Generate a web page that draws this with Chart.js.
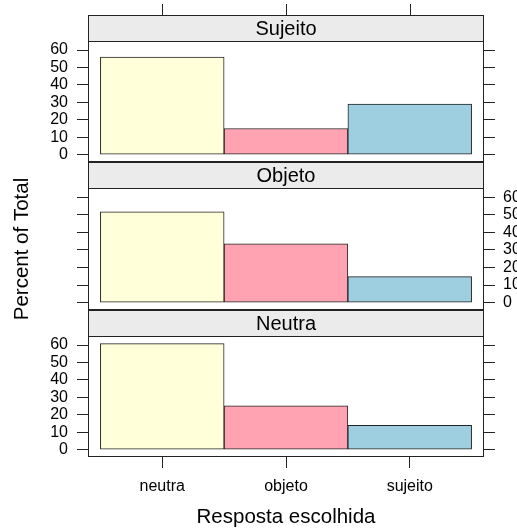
<!DOCTYPE html>
<html><head><meta charset="utf-8">
<script src="https://cdn.jsdelivr.net/npm/chart.js@4"></script>
<style>
html,body{margin:0;padding:0;background:#fff;width:517px;height:529px;overflow:hidden}
canvas{position:absolute;left:0;top:0}
</style></head><body>
<canvas id="p0" width="517" height="529"></canvas>
<canvas id="p1" width="517" height="529"></canvas>
<canvas id="p2" width="517" height="529"></canvas>
<script>
// ---- data ----
const categories = ['neutra', 'objeto', 'sujeito'];
const panelNames = ['Sujeito', 'Objeto', 'Neutra'];
const sujeitoValues = [56, 15, 29];
const objetoValues = [51.7, 33.5, 14.8];
const neutraValues = [60.8, 25.2, 14];
const yTicks = [0, 10, 20, 30, 40, 50, 60];
const xTitle = 'Resposta escolhida';
const yTitle = 'Percent of Total';

// ---- styling / layout ----
const barColors = ['#FFFFD9', '#FFA3B3', '#9ECFE0'];
const LINE = '#222';
const FONT = "'Liberation Sans', Arial, Helvetica, sans-serif";
const W = 517, H = 529, PL = 88, PR = 484, STRIP = 26, TICK = 11;
const layouts = [
  {plotTop: 41,  plotBottom: 162, left: true,  right: false, topTicks: true,  bottom: false, yTitle: false},
  {plotTop: 188, plotBottom: 310, left: false, right: true,  topTicks: false, bottom: false, yTitle: true},
  {plotTop: 336, plotBottom: 457, left: true,  right: false, topTicks: false, bottom: true,  yTitle: false}
];

const panelPlugin = {
  id: 'panel',
  afterDatasetsDraw(chart, args, o) {
    const {ctx, chartArea: a} = chart;
    const x = chart.scales.x;
    const l = Math.round(a.left), r = Math.round(a.right);
    const t = Math.round(a.top), b = Math.round(a.bottom);
    ctx.save();
    ctx.fillStyle = '#EBEBEB';
    ctx.fillRect(l, t - STRIP, r - l, STRIP);
    ctx.strokeStyle = LINE;
    ctx.lineWidth = 1;
    ctx.beginPath();
    ctx.moveTo(l, t + 0.5); ctx.lineTo(r, t + 0.5);
    ctx.stroke();
    ctx.strokeRect(l + 0.5, t - STRIP + 0.5, r - l - 1, b - t + STRIP - 1);
    ctx.fillStyle = '#000';
    ctx.font = '20px ' + FONT;
    ctx.textAlign = 'center';
    ctx.textBaseline = 'middle';
    ctx.fillText(o.label, (l + r) / 2, t - STRIP / 2 + 1);
    if (o.topTicks) {
      ctx.beginPath();
      x.ticks.forEach(tk => {
        const px = Math.round(x.getPixelForValue(tk.value)) + 0.5;
        ctx.moveTo(px, t - STRIP);
        ctx.lineTo(px, t - STRIP - TICK);
      });
      ctx.stroke();
    }
    ctx.restore();
  }
};

function makePanel(id, idx, values) {
  const L = layouts[idx];
  const yAxis = (pos, show, width) => ({
    type: 'linear', position: pos, min: -4.2, max: 65.2,
    afterBuildTicks: s => { s.ticks = yTicks.map(v => ({value: v})); },
    afterFit: s => { s.width = width; },
    grid: {drawOnChartArea: false, drawTicks: true, tickLength: TICK, tickColor: LINE, lineWidth: 1},
    border: {display: false},
    ticks: {callback: v => show ? String(v) : '', font: {family: FONT, size: 16}, color: '#000',
            padding: pos === 'left' ? 9 : 8, autoSkip: false},
    title: {display: pos === 'left' && L.yTitle, text: yTitle, font: {family: FONT, size: 20.5},
            color: '#000', padding: {top: 10, bottom: 0}}
  });
  return new Chart(document.getElementById(id), {
    type: 'bar',
    data: {
      datasets: [{
        data: categories.map((c, i) => ({x: i + 1, y: values[i]})),
        backgroundColor: barColors,
        borderColor: LINE,
        borderWidth: 1,
        borderSkipped: false,
        barPercentage: 1,
        categoryPercentage: 1
      }]
    },
    options: {
      responsive: false, animation: false, devicePixelRatio: 1,
      layout: {padding: {top: L.plotTop, bottom: L.bottom ? 0 : H - L.plotBottom, left: 0, right: 0}},
      plugins: {legend: {display: false}, tooltip: {enabled: false},
                panel: {label: panelNames[idx], topTicks: L.topTicks}},
      scales: {
        x: {
          type: 'linear', min: 0.4, max: 3.6, offset: false, display: L.bottom,
          afterBuildTicks: s => { s.ticks = categories.map((c, i) => ({value: i + 1})); },
          afterFit: s => { s.height = L.bottom ? H - L.plotBottom : 0; },
          grid: {offset: false, drawOnChartArea: false, drawTicks: true, tickLength: TICK, tickColor: LINE, lineWidth: 1},
          border: {display: false},
          ticks: {callback: (v, i) => categories[i], font: {family: FONT, size: 16}, color: '#000',
                  padding: 9, maxRotation: 0, autoSkip: false},
          title: {display: L.bottom, text: xTitle, font: {family: FONT, size: 20.5}, color: '#000',
                  padding: {top: 0, bottom: -1}}
        },
        y: yAxis('left', L.left, PL),
        y2: yAxis('right', L.right, W - PR)
      }
    },
    plugins: [panelPlugin]
  });
}

makePanel('p0', 0, sujeitoValues);
makePanel('p1', 1, objetoValues);
makePanel('p2', 2, neutraValues);
</script>
</body></html>
